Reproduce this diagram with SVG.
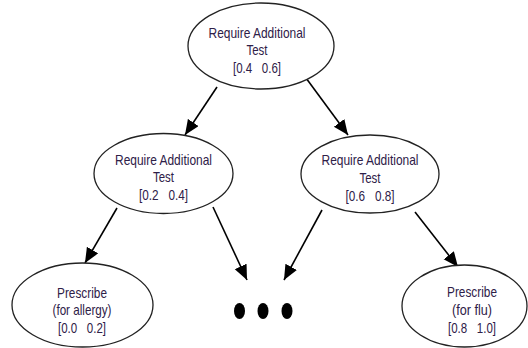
<svg xmlns="http://www.w3.org/2000/svg" width="528" height="348" viewBox="0 0 528 348">
<defs>
<style>
.node ellipse{fill:#fff;stroke:#222;stroke-width:1.3}
.node text{font-family:"Liberation Sans",Arial,sans-serif;font-size:15px;fill:#2e2048;text-anchor:middle}
.edge{stroke:#000;stroke-width:1.6;fill:none;marker-end:url(#ah)}
.dot{fill:#000}
</style>
<marker id="ah" markerUnits="userSpaceOnUse" markerWidth="16" markerHeight="14" refX="15" refY="6.5" orient="auto">
<path d="M0,0 L15,6.5 L0,13 z" fill="#000"/>
</marker>
</defs>
<rect width="528" height="348" fill="#fff"/>
<g id="connectors">
<line class="edge" x1="217" y1="87" x2="185" y2="135"/>
<line class="edge" x1="306" y1="78" x2="348" y2="135"/>
<line class="edge" x1="117" y1="208" x2="85" y2="263"/>
<line class="edge" x1="213" y1="207" x2="247" y2="280"/>
<line class="edge" x1="322" y1="210" x2="284" y2="280"/>
<line class="edge" x1="415" y1="212" x2="458" y2="267"/>
</g>
<g id="n_top" class="node">
<ellipse cx="261" cy="46" rx="73" ry="43"/>
<text x="257" y="38" textLength="97" lengthAdjust="spacingAndGlyphs">Require Additional</text>
<text x="257" y="55" textLength="21" lengthAdjust="spacingAndGlyphs">Test</text>
<text x="257" y="73" textLength="48" lengthAdjust="spacingAndGlyphs" xml:space="preserve">[0.4   0.6]</text>
</g>
<g id="n_midleft" class="node">
<ellipse cx="163.5" cy="173.5" rx="69.5" ry="40"/>
<text x="163.5" y="165" textLength="97" lengthAdjust="spacingAndGlyphs">Require Additional</text>
<text x="163.5" y="182" textLength="21" lengthAdjust="spacingAndGlyphs">Test</text>
<text x="163.5" y="200" textLength="49" lengthAdjust="spacingAndGlyphs" xml:space="preserve">[0.2   0.4]</text>
</g>
<g id="n_midright" class="node">
<ellipse cx="370" cy="174" rx="69" ry="39"/>
<text x="370" y="165" textLength="97" lengthAdjust="spacingAndGlyphs">Require Additional</text>
<text x="370" y="183" textLength="21" lengthAdjust="spacingAndGlyphs">Test</text>
<text x="370" y="201" textLength="49" lengthAdjust="spacingAndGlyphs" xml:space="preserve">[0.6   0.8]</text>
</g>
<g id="n_allergy" class="node">
<ellipse cx="82.5" cy="305" rx="70.5" ry="42"/>
<text x="82" y="298" textLength="50" lengthAdjust="spacingAndGlyphs">Prescribe</text>
<text x="82" y="315" textLength="59" lengthAdjust="spacingAndGlyphs">(for allergy)</text>
<text x="82" y="333" textLength="48" lengthAdjust="spacingAndGlyphs" xml:space="preserve">[0.0   0.2]</text>
</g>
<g id="n_flu" class="node">
<ellipse cx="464.5" cy="306" rx="62.5" ry="41"/>
<text x="472" y="297" textLength="50" lengthAdjust="spacingAndGlyphs">Prescribe</text>
<text x="472" y="315" textLength="40" lengthAdjust="spacingAndGlyphs">(for flu)</text>
<text x="472" y="333" textLength="48" lengthAdjust="spacingAndGlyphs" xml:space="preserve">[0.8   1.0]</text>
</g>
<g id="ellipsis">
<ellipse class="dot" cx="239.5" cy="311" rx="5.5" ry="8"/>
<ellipse class="dot" cx="263" cy="311" rx="5.5" ry="8"/>
<ellipse class="dot" cx="287" cy="311" rx="5.5" ry="8"/>
</g>
</svg>
